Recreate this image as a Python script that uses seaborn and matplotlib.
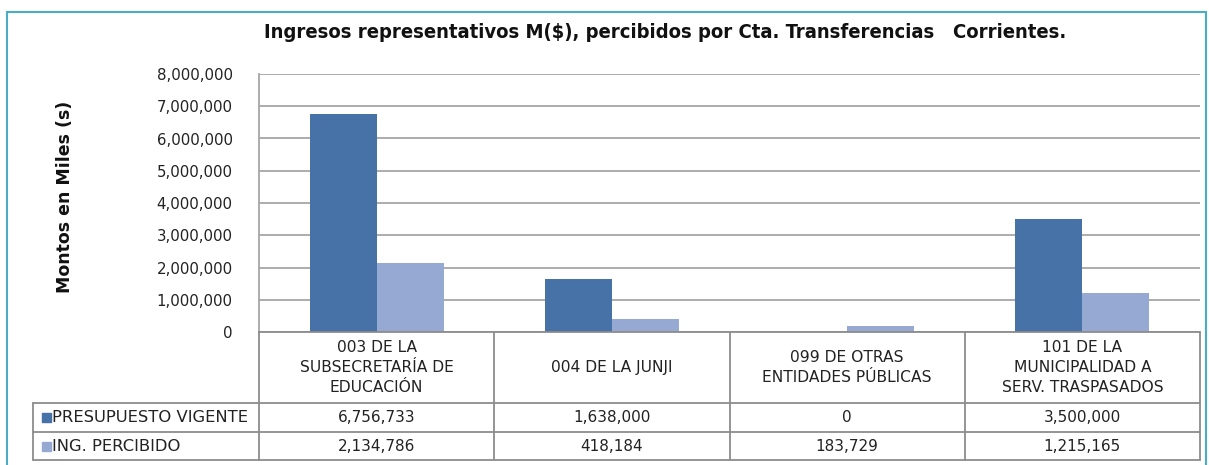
import matplotlib
matplotlib.use("Agg")
import matplotlib.pyplot as plt
import seaborn as sns
import pandas as pd
from matplotlib.patches import Rectangle
from matplotlib.lines import Line2D

categories = ["003 DE LA\nSUBSECRETARÍA DE\nEDUCACIÓN", "004 DE LA JUNJI",
              "099 DE OTRAS\nENTIDADES PÚBLICAS", "101 DE LA\nMUNICIPALIDAD A\nSERV. TRASPASADOS"]
series_names = ["PRESUPUESTO VIGENTE", "ING. PERCIBIDO"]
presupuesto = [6756733, 1638000, 0, 3500000]
percibido = [2134786, 418184, 183729, 1215165]
yticks = [0, 1000000, 2000000, 3000000, 4000000, 5000000, 6000000, 7000000, 8000000]
colors = ["#4672A8", "#95A9D2"]

title = "Ingresos representativos M($), percibidos por Cta. Transferencias   Corrientes."
ylabel = "Montos en Miles (s)"

df = pd.DataFrame({
    "cat": categories * 2,
    "serie": [series_names[0]] * 4 + [series_names[1]] * 4,
    "valor": presupuesto + percibido,
})

sns.set_theme(style="white")
plt.rcParams["font.family"] = ["DejaVu Sans"]

W, H = 1209, 465
fig = plt.figure(figsize=(W / 100, H / 100), dpi=100)

def box(x0, y0, x1, y1):
    return [x0 / W, 1 - y1 / H, (x1 - x0) / W, (y1 - y0) / H]

# outer teal frame
fig.patches.append(Rectangle((7 / W, -0.05), (1206 - 7) / W, 1 - 12 / H + 0.05,
                             transform=fig.transFigure, fill=False,
                             edgecolor="#4BACC6", linewidth=1.5))

ax = fig.add_axes(box(259, 74, 1200, 332))
sns.barplot(data=df, x="cat", y="valor", hue="serie", palette=colors,
            width=0.57, saturation=1, ax=ax, legend=False, linewidth=0)
ax.set_xlim(-0.5, 3.5)
ax.set_ylim(0, 8000000)
ax.set_yticks(yticks)
ax.set_yticklabels([f"{v:,.0f}" for v in yticks], fontsize=10.8, color="#222222")
ax.tick_params(axis="y", length=0, pad=19)
ax.set_xticks([])
ax.set_xlabel("")
ax.set_ylabel("")
ax.grid(axis="y", color="#A6A6A6", linewidth=1.3)
ax.set_axisbelow(True)
for s in ["top", "right", "bottom"]:
    ax.spines[s].set_visible(False)
ax.spines["left"].set_color("#A6A6A6")
ax.spines["left"].set_linewidth(1.3)

fig.text(65 / W, 1 - 197 / H, ylabel, rotation=90, ha="center", va="center",
         fontsize=12.5, fontweight="bold", color="#111111")
fig.text(665 / W, 1 - 33 / H, title, ha="center", va="center",
         fontsize=14.5, fontweight="bold", color="#111111", family=["DejaVu Sans"],
         fontstretch="condensed")

# data table
tab = fig.add_axes(box(259, 332, 1200, 460))
tab.set_xlim(-0.5, 3.5)
tab.set_ylim(128, 0)
tab.axis("off")
unit = (1200 - 259) / 4.0
xl = -0.5 - (259 - 33) / unit
lc = "#8C8C8C"
lw = 1.3
rows_y = [0, 71, 100, 128]
# horizontal lines
tab.add_line(Line2D([-0.5, 3.5], [0, 0], color=lc, lw=lw, clip_on=False))
for yy in rows_y[1:]:
    tab.add_line(Line2D([xl, 3.5], [yy, yy], color=lc, lw=lw, clip_on=False))
# vertical lines
for i in range(5):
    tab.add_line(Line2D([i - 0.5, i - 0.5], [0, 128], color=lc, lw=lw, clip_on=False))
tab.add_line(Line2D([xl, xl], [71, 128], color=lc, lw=lw, clip_on=False))

for i, c in enumerate(categories):
    tab.text(i, 35.5, c, ha="center", va="center", fontsize=11.2, color="#222222",
             linespacing=1.45)
for r, (name, vals, col) in enumerate(zip(series_names, [presupuesto, percibido], colors)):
    yc = (rows_y[r + 1] + rows_y[r + 2]) / 2
    tab.add_patch(Rectangle((xl + 9 / unit, yc - 4.5), 9 / unit, 9, color=col, clip_on=False))
    tab.text(xl + 19 / unit, yc, name, ha="left", va="center", fontsize=11.8, color="#222222")
    for i, v in enumerate(vals):
        tab.text(i, yc, f"{v:,.0f}", ha="center", va="center", fontsize=11, color="#222222")

fig.savefig("out.png", dpi=100)
